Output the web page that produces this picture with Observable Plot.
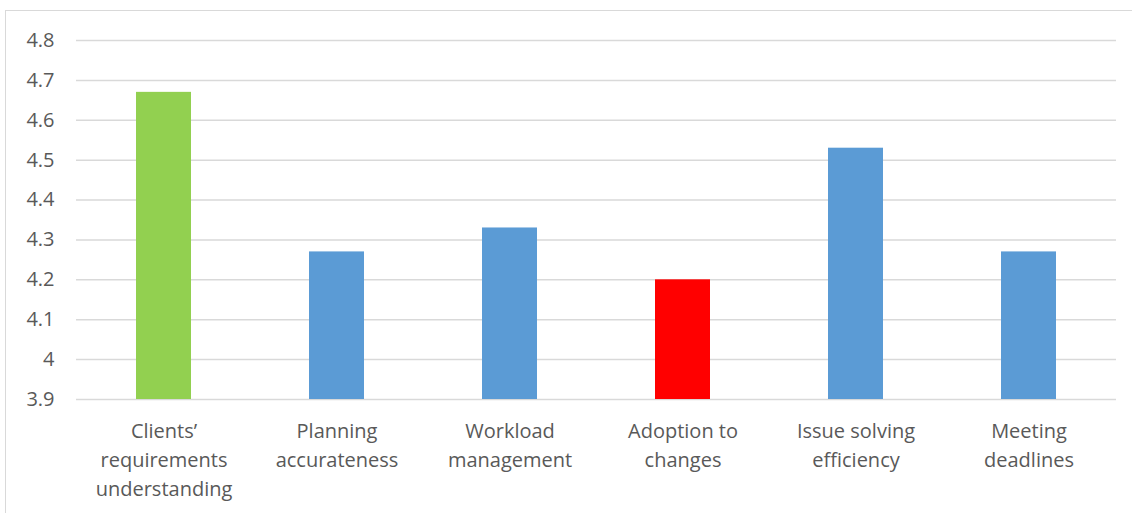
<!DOCTYPE html>
<html>
<head>
<meta charset="utf-8">
<script src="https://cdn.jsdelivr.net/npm/d3@7"></script>
<script src="https://cdn.jsdelivr.net/npm/@observablehq/plot@0.6"></script>
<style>
  html, body { margin: 0; padding: 0; background: #fff; overflow: hidden; }
  #wrap { position: relative; width: 1132px; height: 513px; overflow: hidden; }
  #frame { position: absolute; left: 5px; top: 10px; width: 1140px; height: 520px; border: 1.5px solid #d9d9d9; box-sizing: border-box; }
  #chart { position: absolute; left: 0; top: 0; }
</style>
</head>
<body>
<div id="wrap"><div id="frame"></div><div id="chart"></div></div>
<script>
const categories = [
  "Clients’\nrequirements\nunderstanding",
  "Planning\naccurateness",
  "Workload\nmanagement",
  "Adoption to\nchanges",
  "Issue solving\nefficiency",
  "Meeting\ndeadlines"
];
const values = [4.67, 4.27, 4.33, 4.2, 4.53, 4.27];
const yTicks = [3.9, 4.0, 4.1, 4.2, 4.3, 4.4, 4.5, 4.6, 4.7, 4.8];

const data = categories.map((c, i) => ({ cat: c, value: values[i] }));
const vmax = d3.max(values), vmin = d3.min(values);
const fillFor = d => d.value === vmax ? "#92D050" : d.value === vmin ? "#FF0000" : "#5B9BD5";
const font = "'Open Sans', sans-serif";

const chart = Plot.plot({
  width: 1132,
  height: 513,
  marginLeft: 76,
  marginRight: 16,
  marginTop: 40,
  marginBottom: 114,
  style: { fontFamily: font, background: "transparent", color: "#595959" },
  x: { domain: categories, paddingOuter: 0.3415, paddingInner: 0.683 },
  y: { domain: [3.9, 4.8] },
  marks: [
    Plot.ruleY(yTicks, { stroke: "#d9d9d9", strokeWidth: 1.5 }),
    Plot.barY(data, { x: "cat", y1: 3.9, y2: "value", fill: fillFor }),
    Plot.axisY({ ticks: yTicks, tickSize: 0, tickPadding: 22, fontSize: 20, fill: "#595959",
      tickFormat: d => String(+d.toFixed(1)), label: null }),
    Plot.axisX({ tickSize: 0, tickPadding: 18, fontSize: 20, lineHeight: 1.45, fill: "#595959", label: null })
  ]
});
document.getElementById("chart").appendChild(chart);
</script>
</body>
</html>
